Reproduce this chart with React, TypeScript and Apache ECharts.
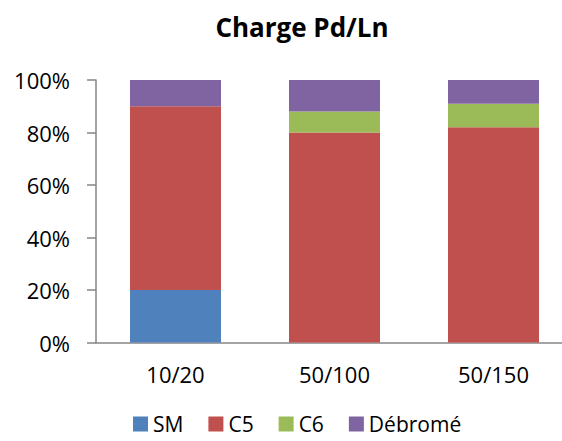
import React, { useEffect, useRef } from "react";
import * as echarts from "echarts";

const categories = ["10/20", "50/100", "50/150"];
const seriesNames = ["SM", "C5", "C6", "Débromé"];
const smValues = [20, 0, 0];
const c5Values = [70, 80, 82];
const c6Values = [0, 8, 9];
const debromeValues = [10, 12, 9];
const colors = ["#4F81BD", "#C0504D", "#9BBB59", "#8064A2"];

const FONT = "'Open Sans', sans-serif";

export default function App() {
  const ref = useRef<HTMLDivElement>(null);
  useEffect(() => {
    if (!ref.current) return;
    const chart = echarts.init(ref.current, null, { renderer: "svg" });
    const all = [smValues, c5Values, c6Values, debromeValues];
    chart.setOption({
      animation: false,
      title: {
        text: "Charge Pd/Ln",
        left: 297,
        top: 9,
        textAlign: "center",
        textStyle: { fontFamily: FONT, fontSize: 26, fontWeight: "bold", color: "#000" },
      },
      legend: {
        top: 413,
        left: 133,
        padding: 0,
        itemWidth: 15,
        itemHeight: 15,
        itemGap: 25,
        icon: "rect",
        textStyle: { fontFamily: FONT, fontSize: 21, lineHeight: 22, color: "#000", padding: 0 },
        data: seriesNames,
      },
      grid: { left: 96, top: 80, width: 477, height: 262.5, containLabel: false, outerBoundsMode: "none" },
      xAxis: {
        type: "category",
        data: categories,
        axisLine: { lineStyle: { color: "#868686", width: 1.5 } },
        axisTick: { show: false },
        axisLabel: { fontFamily: FONT, fontSize: 22, color: "#000", margin: 20 },
      },
      yAxis: {
        type: "value",
        min: 0,
        max: 100,
        interval: 20,
        axisLine: { show: true, lineStyle: { color: "#868686", width: 1.5 } },
        axisTick: { show: true, length: 9, lineStyle: { color: "#868686", width: 1.5 } },
        splitLine: { show: false },
        axisLabel: { fontFamily: FONT, fontSize: 22, color: "#000", margin: 26, formatter: "{value}%" },
      },
      series: seriesNames.map((name, i) => ({
        name,
        type: "bar",
        stack: "total",
        barWidth: 91,
        data: all[i],
        itemStyle: { color: colors[i] },
      })),
    });
    return () => chart.dispose();
  }, []);
  return <div ref={ref} style={{ width: 562, height: 441, position: "absolute", left: 0, top: 0 }} />;
}
